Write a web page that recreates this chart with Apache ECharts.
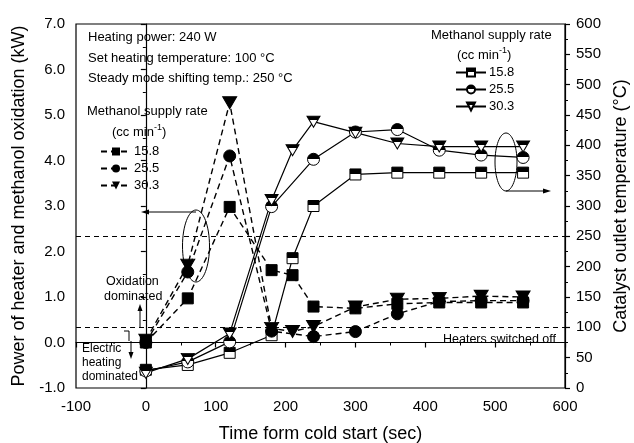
<!DOCTYPE html>
<html>
<head>
<meta charset="utf-8">
<script src="https://cdn.jsdelivr.net/npm/echarts@6/dist/echarts.min.js"></script>
<style>html,body{margin:0;padding:0;background:#fff}#c{width:634px;height:443px}</style>
</head>
<body>
<div id="c"></div>
<script>
// ---- data ----
const times = [0, 60, 120, 180, 210, 240, 300, 360, 420, 480, 540];
const times255 = [0, 60, 120, 180, 240, 300, 360, 420, 480, 540];
const rates = ['15.8', '25.5', '30.3'];
// power of heater and methanol oxidation (kW), left axis, dashed
const power158 = [0.0, 0.97, 2.98, 1.59, 1.48, 0.79, 0.75, 0.85, 0.88, 0.88, 0.88];
const power255 = [0.0, 1.55, 4.10, 0.25, 0.13, 0.24, 0.63, 0.90, 0.92, 0.92];
const power303 = [0.05, 1.70, 5.27, 0.31, 0.24, 0.35, 0.78, 0.95, 0.97, 1.02, 1.00];
// catalyst outlet temperature (°C), right axis, solid
const temp158 = [30, 38, 58, 87, 214, 300, 352, 355, 355, 355, 355];
const temp255 = [28, 43, 76, 299, 377, 422, 426, 392, 384, 380];
const temp303 = [25, 48, 90, 310, 392, 439, 421, 403, 398, 398, 398];
const refTemps = [250, 100];

const pair = (xs, ys) => xs.map((x, i) => [x, ys[i]]);
const FONT = 'Liberation Sans';
const TRI = 'path://M0 0L12 0L6 10Z';
const half = (stop) => ({type:'linear', x:0, y:0, x2:0, y2:1, colorStops:[
  {offset:0, color:'#000'}, {offset:stop, color:'#000'}, {offset:stop, color:'#fff'}, {offset:1, color:'#fff'}]});

function dashed(name, xs, ys, symbol, size) {
  return {name:'p' + name, type:'line', yAxisIndex:0, data:pair(xs, ys), symbol:symbol, symbolSize:size,
    lineStyle:{color:'#000', width:1.4, type:[6,4]}, itemStyle:{color:'#000', borderColor:'#000'}, z:3};
}
function solid(name, xs, ys, symbol, size, stop) {
  return {name:'t' + name, type:'line', yAxisIndex:1, data:pair(xs, ys), symbol:symbol, symbolSize:size,
    lineStyle:{color:'#000', width:1.2, type:'solid'}, itemStyle:{color:half(stop), borderColor:'#000', borderWidth:1}, z:2};
}

const s158 = solid(rates[0], times, temp158, 'rect', 11, 0.45);
s158.markLine = {silent:true, symbol:'none', label:{show:false},
  lineStyle:{color:'#000', type:[5,4], width:1}, data:refTemps.map(v => ({yAxis:v}))};

const series = [
  s158,
  solid(rates[1], times255, temp255, 'circle', 12, 0.45),
  solid(rates[2], times, temp303, TRI, [13, 11], 0.35),
  dashed(rates[0], times, power158, 'rect', 11),
  dashed(rates[1], times255, power255, 'circle', 12),
  dashed(rates[2], times, power303, TRI, [14, 12])
];

const axisCommon = {
  axisLine:{show:true, lineStyle:{color:'#000', width:1.2}},
  axisTick:{show:true, length:5, lineStyle:{color:'#000', width:1.2}},
  minorTick:{show:true, splitNumber:2, length:3, lineStyle:{color:'#000'}},
  splitLine:{show:false},
  axisLabel:{fontSize:15, color:'#000', fontFamily:FONT, margin:11},
  nameTextStyle:{fontSize:18, color:'#000', fontFamily:FONT}
};

const legendCommon = {orient:'vertical', itemWidth:30, itemHeight:10, itemGap:4, padding:0,
  formatter:n => n.slice(1), textStyle:{fontSize:13, color:'#000', fontFamily:FONT, padding:[0,0,0,-2]}};

function txt(x, y, s, size, extra) {
  return Object.assign({type:'text', x:x, y:y, style:{text:s, font:(size||13) + 'px ' + FONT, fill:'#000', textVerticalAlign:'middle'}}, extra||{});
}
function rich(x, y) {
  return {type:'text', x:x, y:y, style:{text:'{a|(cc min}{s|-1}{a|)}', fill:'#000', textVerticalAlign:'middle',
    rich:{a:{fontSize:13, fontFamily:FONT}, s:{fontSize:9, fontFamily:FONT, verticalAlign:'top', padding:[0,0,8,0]}}}};
}
const ln = (x1, y1, x2, y2) => ({type:'line', shape:{x1, y1, x2, y2}, style:{stroke:'#000', lineWidth:1}});
const head = (pts) => ({type:'polygon', shape:{points:pts}, style:{fill:'#000'}});

const graphic = [
  txt(88, 37, 'Heating power: 240 W'),
  txt(88, 58, 'Set heating temperature: 100 °C'),
  txt(88, 78, 'Steady mode shifting temp.: 250 °C'),
  txt(87, 111, 'Methanol supply rate'),
  rich(112, 132),
  txt(431, 35, 'Methanol supply rate'),
  rich(457, 55),
  {type:'text', x:556, y:340, style:{text:'Heaters switched off', font:'12.5px ' + FONT, fill:'#000', textAlign:'right', textVerticalAlign:'middle'}},
  txt(106, 282, 'Oxidation', 12.5),
  txt(104, 297, 'dominated', 12.5),
  txt(82, 349, 'Electric', 12),
  txt(82, 363, 'heating', 12),
  txt(82, 377, 'dominated', 12),
  ln(140, 327, 140, 309), head([[140,304],[137.5,311],[142.5,311]]),
  ln(124, 331, 129, 331), ln(129, 331, 129, 341),
  ln(131, 341, 131, 354), head([[131,359],[128.5,352],[133.5,352]]),
  {type:'ellipse', shape:{cx:196, cy:246, rx:13.5, ry:36}, style:{fill:null, stroke:'#000', lineWidth:1}},
  ln(196, 212, 148, 212), head([[141,212],[149,209.5],[149,214.5]]),
  {type:'ellipse', shape:{cx:506, cy:162, rx:11, ry:29}, style:{fill:null, stroke:'#000', lineWidth:1}},
  ln(506, 191, 544, 191), head([[551,191],[543,188.5],[543,193.5]])
];

const option = {
  animation:false,
  backgroundColor:'#fff',
  textStyle:{fontFamily:FONT, color:'#000'},
  grid:{left:76, right:69, top:24, bottom:55, show:true, borderColor:'#000', borderWidth:1.2,
    backgroundColor:'transparent', containLabel:false, outerBoundsMode:'none'},
  xAxis:Object.assign({type:'value', min:-100, max:600, interval:100, name:'Time form cold start (sec)',
    nameLocation:'middle', nameGap:37}, axisCommon),
  yAxis:[
    Object.assign({}, axisCommon, {type:'value', min:-1, max:7, interval:1, position:'left',
      name:'Power of heater and methanol oxidation (kW)', nameLocation:'middle', nameGap:45, nameRotate:90,
      axisLabel:Object.assign({}, axisCommon.axisLabel, {formatter:v => v.toFixed(1)})}),
    Object.assign({}, axisCommon, {type:'value', min:0, max:600, interval:50, position:'right',
      name:'Catalyst outlet temperature (°C)', nameLocation:'middle', nameGap:45, nameRotate:90})
  ],
  legend:[
    Object.assign({}, legendCommon, {data:rates.map(r => 'p' + r), left:100, top:145}),
    Object.assign({}, legendCommon, {data:rates.map(r => 't' + r), left:455, top:66})
  ],
  series:series,
  graphic:graphic
};

const chart = echarts.init(document.getElementById('c'), null, {renderer:'canvas'});
chart.setOption(option);
</script>
</body>
</html>
